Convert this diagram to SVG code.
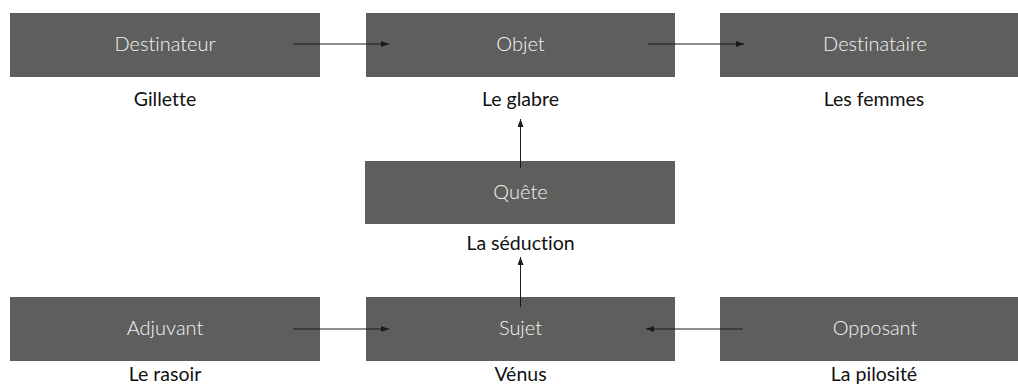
<svg xmlns="http://www.w3.org/2000/svg" width="1018" height="385" viewBox="0 0 1018 385">
<style>
.box{fill:#5e5f5d}
.bt{font-family:Lato,"Noto Sans",sans-serif;font-weight:300;font-size:20px;fill:#f4f4f4;text-anchor:middle;font-variant-ligatures:none}
.lb{font-family:Lato,"Noto Sans",sans-serif;font-size:19.5px;fill:#111;text-anchor:middle;font-variant-ligatures:none}
.c{stroke:#1a1a1a;stroke-width:1;fill:none;marker-end:url(#ah)}
</style>
<defs>
<marker id="ah" viewBox="0 0 8 6" refX="8" refY="3" markerWidth="8" markerHeight="6" markerUnits="userSpaceOnUse" orient="auto">
<path d="M0,0 L8,3 L0,6 z" fill="#1a1a1a"/>
</marker>
</defs>
<rect width="1018" height="385" fill="#ffffff"/>
<g id="destinateur"><rect class="box" x="10" y="13" width="310" height="64"/><text class="bt" x="165" y="51">Destinateur</text><text class="lb" x="165" y="106">Gillette</text></g>
<g id="objet"><rect class="box" x="366" y="13" width="309" height="64"/><text class="bt" x="520.5" y="51">Objet</text><text class="lb" x="520.5" y="106">Le glabre</text></g>
<g id="destinataire"><rect class="box" x="720" y="13" width="310" height="64"/><text class="bt" x="875" y="51">Destinataire</text><text class="lb" x="874" y="106">Les femmes</text></g>
<g id="quete"><rect class="box" x="365" y="161" width="310" height="63"/><text class="bt" x="520.5" y="199">Quête</text><text class="lb" x="520.5" y="250">La séduction</text></g>
<g id="adjuvant"><rect class="box" x="10" y="297" width="310" height="64"/><text class="bt" x="165" y="335">Adjuvant</text><text class="lb" x="165" y="381">Le rasoir</text></g>
<g id="sujet"><rect class="box" x="366" y="297" width="309" height="64"/><text class="bt" x="520.5" y="335">Sujet</text><text class="lb" x="520.5" y="381">Vénus</text></g>
<g id="opposant"><rect class="box" x="720" y="297" width="310" height="64"/><text class="bt" x="875" y="335">Opposant</text><text class="lb" x="874" y="381">La pilosité</text></g>
<g id="connectors">
<line class="c" x1="293" y1="44" x2="389" y2="44"/>
<line class="c" x1="648" y1="44" x2="744" y2="44"/>
<line class="c" x1="520.5" y1="168" x2="520.5" y2="119"/>
<line class="c" x1="520.5" y1="307" x2="520.5" y2="257"/>
<line class="c" x1="293" y1="329" x2="389" y2="329"/>
<line class="c" x1="743" y1="329" x2="646" y2="329"/>
</g>
</svg>
